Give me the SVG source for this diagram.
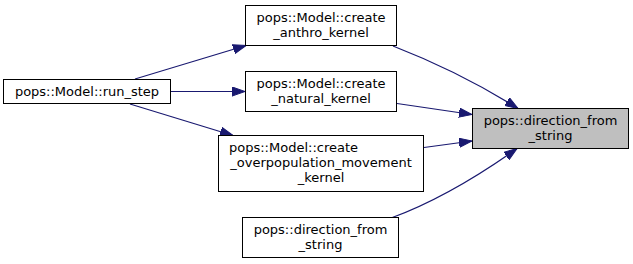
<svg xmlns="http://www.w3.org/2000/svg" width="633" height="264" viewBox="0 0 633 264">
  <defs>
    <style>
      .node rect { fill: #ffffff; stroke: #000000; stroke-width: 1; }
      .node.current rect { fill: #bfbfbf; }
      .node text { font-family: "DejaVu Sans", "Liberation Sans", sans-serif; font-size: 13px; fill: #000000; text-anchor: middle; }
      .node text.left { text-anchor: start; }
      .edges path { fill: none; stroke: #191970; stroke-width: 1.2; marker-end: url(#arrow); }
    </style>
    <marker id="arrow" viewBox="0 0 13 10" refX="13" refY="5" markerWidth="13" markerHeight="10" markerUnits="userSpaceOnUse" orient="auto">
      <path d="M0,0.4 L13,5 L0,9.6 Z" fill="#191970" stroke="#191970" stroke-width="1"/>
    </marker>
  </defs>
  <rect width="633" height="264" fill="#ffffff"/>

  <g id="edges" class="edges">
    <!-- run_step calls into the three kernel builders -->
    <path d="M135,79 L246,45.5"/>
    <path d="M171,91.5 L245,91.5"/>
    <path d="M130,104 L233,135.5"/>
    <!-- callers of direction_from_string -->
    <path d="M393,46 Q460,72 518,108.5"/>
    <path d="M397,103.5 L472,114.5"/>
    <path d="M424,147.5 L472,141"/>
    <path d="M391,218 Q449.4,196.5 517,148.5"/>
  </g>

  <g id="node-run-step" class="node">
    <rect x="3.5" y="79.5" width="167" height="24"/>
    <text x="87" y="95.5">pops::Model::run_step</text>
  </g>

  <g id="node-create-anthro-kernel" class="node">
    <rect x="245.5" y="5.5" width="151" height="40"/>
    <text x="321" y="21.5">pops::Model::create</text>
    <text x="321" y="36.5">_anthro_kernel</text>
  </g>

  <g id="node-create-natural-kernel" class="node">
    <rect x="245.5" y="71.5" width="151" height="40"/>
    <text x="321" y="87.5">pops::Model::create</text>
    <text x="321" y="102.5">_natural_kernel</text>
  </g>

  <g id="node-create-overpopulation-movement-kernel" class="node">
    <rect x="218.5" y="135.5" width="205" height="56"/>
    <text class="left" x="229" y="151.5">pops::Model::create</text>
    <text x="321" y="166.5">_overpopulation_movement</text>
    <text x="321" y="181.5">_kernel</text>
  </g>

  <g id="node-direction-from-string-overload" class="node">
    <rect x="242.5" y="217.5" width="156" height="40"/>
    <text x="320.5" y="233.5">pops::direction_from</text>
    <text x="320.5" y="248.5">_string</text>
  </g>

  <g id="node-direction-from-string" class="node current">
    <rect x="472.5" y="108.5" width="156" height="40"/>
    <text x="550.5" y="124.5">pops::direction_from</text>
    <text x="550.5" y="139.5">_string</text>
  </g>
</svg>
